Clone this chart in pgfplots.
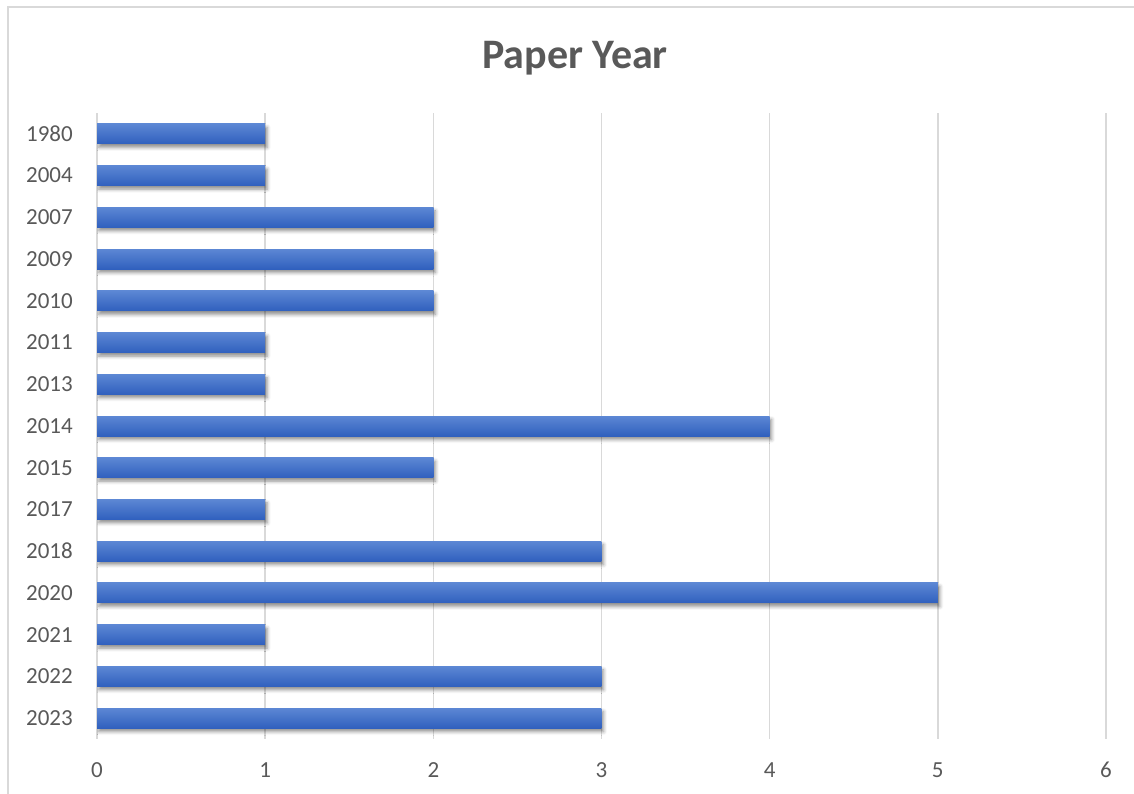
\documentclass[border=0pt]{standalone}
\usepackage{fontspec}
\setmainfont{Carlito}
\usepackage{pgfplots}
\pgfplotsset{compat=1.18}
\usetikzlibrary{shadows.blur}
\definecolor{gridgray}{HTML}{D9D9D9}
\definecolor{txtgray}{HTML}{595959}
\definecolor{bartop}{HTML}{5C87D4}
\definecolor{barbot}{HTML}{3060BE}
\pgfplotsset{onebar/.style={draw=none, top color=bartop, bottom color=barbot, bar shift=0pt,
  blur shadow={shadow xshift=2bp, shadow yshift=-3.5bp, shadow blur radius=3.5bp, shadow opacity=45}}}
\begin{document}
\begin{tikzpicture}
\path[use as bounding box] (0,0) rectangle (1134bp,794bp);
\draw[gridgray, line width=1.2bp] (8bp,-10bp) -- (8bp,787bp) -- (1150bp,787bp);
\node[font=\fontsize{42bp}{48bp}\selectfont\bfseries, text=txtgray] at (575bp,736bp) {Paper Year};
\begin{axis}[
  at={(97bp,55bp)}, anchor=south west,
  scale only axis, width=1009bp, height=626bp,
  xmin=0, xmax=6, ymin=-0.5, ymax=14.5,
  y dir=reverse,
  xtick={0,1,2,3,4,5,6},
  ytick={0,...,14},
  yticklabels={1980,2004,2007,2009,2010,2011,2013,2014,2015,2017,2018,2020,2021,2022,2023},
  xmajorgrids, major grid style={gridgray, line width=1.5bp},
  axis line style={draw=none},
  major tick length=0pt,
  tick label style={font=\fontsize{23bp}{27bp}\selectfont, text=txtgray, inner sep=0pt},
  /pgf/number format/assume math mode=true,
  yticklabel style={anchor=east, xshift=-24bp},
  xticklabel style={anchor=center, yshift=-31bp},
  xbar, bar width=20bp,
]
\addplot[onebar] coordinates {(1,0)};
\addplot[onebar] coordinates {(1,1)};
\addplot[onebar] coordinates {(2,2)};
\addplot[onebar] coordinates {(2,3)};
\addplot[onebar] coordinates {(2,4)};
\addplot[onebar] coordinates {(1,5)};
\addplot[onebar] coordinates {(1,6)};
\addplot[onebar] coordinates {(4,7)};
\addplot[onebar] coordinates {(2,8)};
\addplot[onebar] coordinates {(1,9)};
\addplot[onebar] coordinates {(3,10)};
\addplot[onebar] coordinates {(5,11)};
\addplot[onebar] coordinates {(1,12)};
\addplot[onebar] coordinates {(3,13)};
\addplot[onebar] coordinates {(3,14)};
\end{axis}
\end{tikzpicture}
\end{document}
